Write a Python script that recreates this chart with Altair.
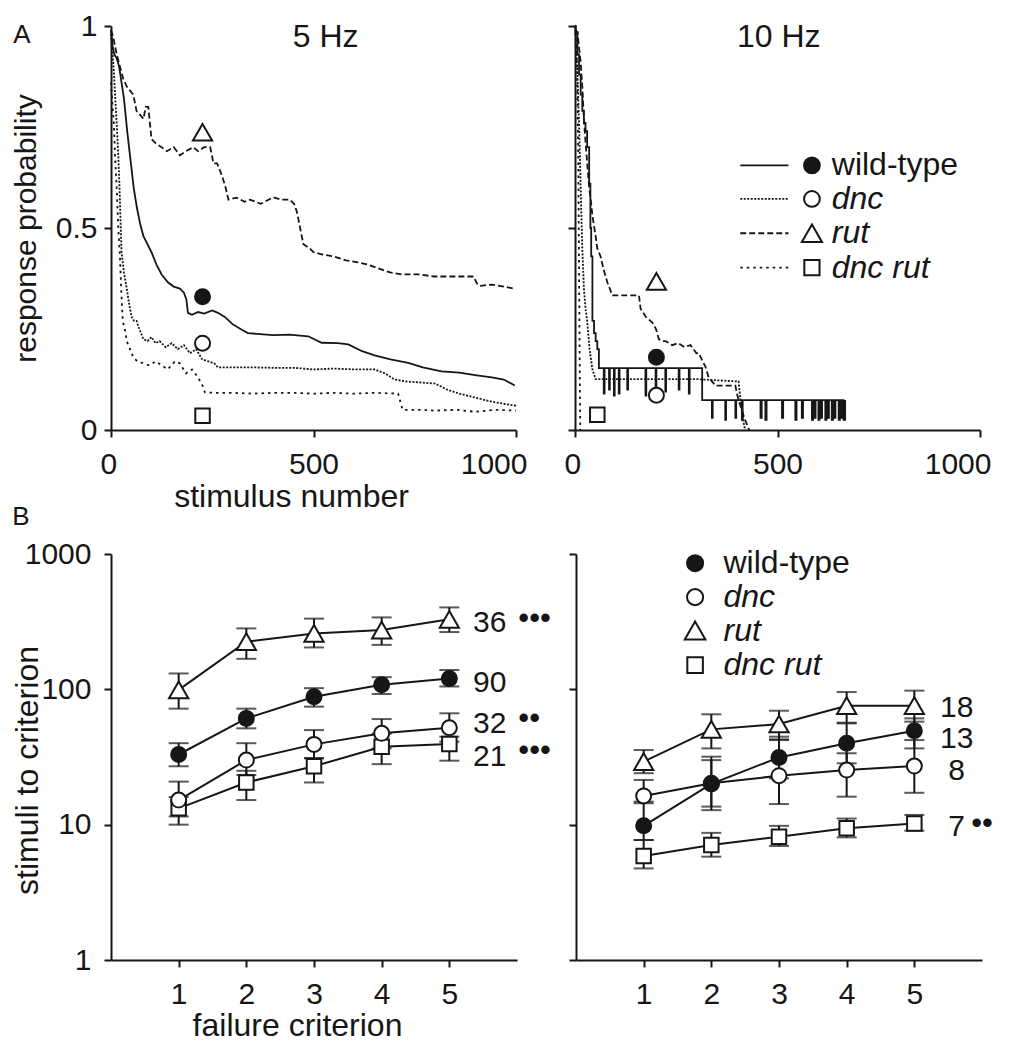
import altair as alt
import pandas as pd

FONT = "Liberation Sans"
INK = "#161616"

# ---------------- Panel A : response probability traces ----------------
# 5 Hz
a5_wt_x = [0, 4, 8, 14, 20, 26, 32, 40, 48, 56, 64, 72, 80, 90, 100, 112, 125, 141, 155, 170, 180, 186,
           190, 200, 215, 230, 250, 264, 281, 300, 320, 338, 360, 400, 440, 487, 520, 560, 586, 620, 651,
           690, 734, 770, 816, 860, 899, 940, 970, 997]
a5_wt_y = [0.99, 0.95, 0.93, 0.92, 0.90, 0.86, 0.82, 0.74, 0.67, 0.60, 0.55, 0.51, 0.48, 0.46, 0.44, 0.41,
           0.385, 0.365, 0.355, 0.35, 0.34, 0.324, 0.29, 0.285, 0.292, 0.288, 0.296, 0.29, 0.28, 0.262, 0.25,
           0.24, 0.238, 0.235, 0.236, 0.232, 0.216, 0.215, 0.212, 0.195, 0.185, 0.175, 0.166, 0.155, 0.145,
           0.142, 0.136, 0.13, 0.125, 0.11]

a5_dnc_x = [0, 4, 7, 10, 14, 18, 21, 26, 32, 39, 45, 51, 57, 63, 70, 80, 90, 100, 110, 120, 135, 150, 165,
            180, 195, 210, 225, 240, 255, 264, 300, 350, 400, 450, 500, 550, 600, 650, 677, 700, 730, 760,
            800, 830, 860, 900, 940, 970, 1000]
a5_dnc_y = [0.98, 0.93, 0.89, 0.83, 0.76, 0.68, 0.60, 0.44, 0.39, 0.35, 0.31, 0.28, 0.27, 0.27, 0.25, 0.225,
            0.22, 0.23, 0.215, 0.22, 0.205, 0.215, 0.20, 0.21, 0.19, 0.20, 0.175, 0.17, 0.165, 0.155, 0.155,
            0.155, 0.154, 0.154, 0.15, 0.152, 0.15, 0.15, 0.14, 0.125, 0.12, 0.118, 0.115, 0.10, 0.09, 0.08,
            0.07, 0.065, 0.06]

a5_rut_x = [0, 6, 14, 22, 30, 39, 47, 55, 63, 72, 80, 86, 92, 100, 110, 125, 138, 155, 170, 185, 203, 215,
            230, 245, 253, 262, 270, 277, 283, 290, 310, 330, 343, 370, 401, 420, 442, 452, 459, 467, 475,
            490, 500, 520, 549, 580, 610, 632, 660, 689, 720, 760, 797, 840, 880, 895, 905, 912, 940, 970, 994]
a5_rut_y = [0.99, 0.97, 0.93, 0.90, 0.87, 0.85, 0.84, 0.83, 0.79, 0.78, 0.77, 0.80, 0.80, 0.72, 0.71, 0.70,
            0.69, 0.70, 0.68, 0.69, 0.70, 0.69, 0.70, 0.70, 0.66, 0.66, 0.64, 0.62, 0.60, 0.57, 0.575, 0.565,
            0.57, 0.56, 0.576, 0.57, 0.57, 0.56, 0.54, 0.50, 0.46, 0.45, 0.44, 0.435, 0.43, 0.42, 0.415, 0.41,
            0.40, 0.39, 0.385, 0.385, 0.38, 0.38, 0.38, 0.38, 0.36, 0.357, 0.36, 0.355, 0.35]

a5_dr_x = [0, 4, 7, 10, 14, 18, 22, 26, 29, 34, 39, 47, 55, 65, 80, 95, 110, 125, 140, 158, 170, 185, 200,
           215, 226, 232, 260, 300, 350, 400, 450, 500, 550, 600, 650, 709, 720, 760, 800, 850, 900, 950, 1000]
a5_dr_y = [0.86, 0.80, 0.76, 0.68, 0.60, 0.50, 0.43, 0.33, 0.27, 0.25, 0.22, 0.20, 0.18, 0.17, 0.165, 0.16,
           0.17, 0.16, 0.15, 0.17, 0.165, 0.14, 0.15, 0.13, 0.11, 0.093, 0.092, 0.092, 0.09, 0.092, 0.092,
           0.09, 0.092, 0.09, 0.092, 0.09, 0.05, 0.05, 0.048, 0.05, 0.045, 0.05, 0.048]

# 10 Hz
a10_wt_x = [0, 2, 6, 10, 14, 18, 22, 26, 30, 35, 38, 40, 43, 47, 51, 55, 59,
            71, 73, 84, 86, 96, 98, 108, 110, 129, 131, 174, 176, 199, 201, 223, 225, 256, 258, 281, 283,
            314, 338, 340, 371, 373, 396, 398, 412, 414, 458, 461, 470, 473, 511, 514, 544, 547, 560, 563,
            585, 588, 592, 594, 601, 604, 608, 610, 618, 621, 625, 627, 634, 637, 641, 643, 651, 654,
            657, 659, 663, 667]
a10_wt_y = [1.0, 0.985, 0.93, 0.88, 0.83, 0.79, 0.76, 0.74, 0.70, 0.61, 0.50, 0.43, 0.27, 0.24, 0.22, 0.20,
            0.153,
            0.09, 0.153, 0.10, 0.153, 0.085, 0.153, 0.09, 0.153, 0.10, 0.153, 0.085, 0.153, 0.09, 0.153,
            0.095, 0.153, 0.10, 0.153, 0.09, 0.153,
            0.074, 0.03, 0.074, 0.025, 0.074, 0.03, 0.074, 0.025, 0.074, 0.03, 0.074, 0.025, 0.074, 0.03,
            0.074, 0.025, 0.074, 0.03, 0.074,
            0.025, 0.074, 0.03, 0.074, 0.025, 0.074, 0.03, 0.074, 0.025, 0.074, 0.03, 0.074, 0.025, 0.074,
            0.03, 0.074, 0.025, 0.074, 0.03, 0.074, 0.025, 0.074]

a10_dnc_x = [0, 2, 6, 10, 14, 18, 22, 26, 30, 36, 43, 51, 100, 200, 300, 404, 408, 412, 416, 420]
a10_dnc_y = [1.0, 0.98, 0.88, 0.76, 0.60, 0.45, 0.35, 0.30, 0.27, 0.20, 0.15, 0.126, 0.126, 0.126, 0.126,
             0.12, 0.08, 0.05, 0.02, 0.0]

a10_rut_x = [0, 6, 14, 18, 22, 27, 35, 40, 43, 51, 55, 63, 70, 80, 86, 92, 158, 162, 175, 191, 200, 207, 215,
             224, 240, 255, 270, 285, 300, 306, 315, 322, 330, 347, 396, 400, 405, 412, 418, 424, 430]
a10_rut_y = [0.99, 0.985, 0.91, 0.85, 0.77, 0.70, 0.60, 0.56, 0.53, 0.48, 0.45, 0.43, 0.40, 0.365, 0.35,
             0.333, 0.333, 0.30, 0.28, 0.266, 0.25, 0.225, 0.22, 0.22, 0.21, 0.215, 0.205, 0.21, 0.19, 0.19,
             0.17, 0.157, 0.13, 0.11, 0.11, 0.09, 0.07, 0.05, 0.03, 0.015, 0.0]

a10_dr_x = [0, 5, 8, 10, 12, 13]
a10_dr_y = [1.0, 0.90, 0.68, 0.40, 0.10, 0.0]

# marker labels on the traces
a5_mark_x = [226, 226, 226, 226]
a5_mark_y = [0.33, 0.215, 0.737, 0.035]      # wild-type, dnc, rut, dnc rut
a10_mark_x = [201, 201, 201, 55]
a10_mark_y = [0.18, 0.086, 0.368, 0.038]

# legend of panel A (drawn inside the 10 Hz plot)
legA_x1, legA_x2, legA_xm, legA_xt = 408, 527, 585, 634
legA_y = [0.655, 0.572, 0.487, 0.402]

freq_labels = ["5 Hz", "10 Hz"]
freq_x = [530, 503]
freq_y = 0.973

# ---------------- Panel B : stimuli to criterion ----------------
crit = [1, 2, 3, 4, 5]
b5_wt = [33, 61, 88, 108, 120]
b5_wt_lo = [27, 51.5, 74.5, 92.4, 105]
b5_wt_hi = [40, 72, 102, 123, 139]
b5_dnc = [15.2, 30, 39.2, 47.3, 52]
b5_dnc_lo = [11.5, 23.3, 31, 36.6, 41]
b5_dnc_hi = [20.8, 40, 50, 60.3, 66.5]
b5_rut = [99, 225, 259, 274, 329]
b5_rut_lo = [72, 168, 204, 213, 265]
b5_rut_hi = [131, 282, 333, 340, 403]
b5_dr = [13.2, 20.5, 27, 37.7, 39.4]
b5_dr_lo = [10, 15.2, 20.5, 28, 29.7]
b5_dr_hi = [16, 25, 31, 47, 44.7]

b10_wt = [9.8, 20, 31.4, 39.9, 49.5]
b10_wt_lo = [7.7, 12.8, 22, 28.4, 36.6]
b10_wt_hi = [14.4, 31.8, 44.7, 56, 61]
b10_dnc = [16.3, 20.2, 23, 25.3, 27.1]
b10_dnc_lo = [14.8, 13.6, 14.2, 16.1, 17.2]
b10_dnc_hi = [21.4, 30, 42.2, 33.7, 42.2]
b10_rut = [29.2, 50.6, 55.4, 75.7, 75.7]
b10_rut_lo = [24, 36.6, 42.7, 56.7, 57.7]
b10_rut_hi = [35.6, 65.4, 69.5, 95.5, 97.8]
b10_dr = [5.87, 7.08, 8.15, 9.4, 10.2]
b10_dr_lo = [4.75, 5.8, 6.96, 8.06, 9.03]
b10_dr_hi = [7.7, 8.7, 9.8, 11.1, 11.8]

# n labels and significance dots
b5_n = ["36", "90", "32", "21"]
b5_n_x = [5.35, 5.35, 5.35, 5.35]
b5_n_y = [307, 111, 55.4, 31.4]
b5_sig = ["•••", "••", "•••"]
b5_sig_x = [6.02, 6.02, 6.02]
b5_sig_y = [329, 60.5, 34.8]
b10_n = ["18", "13", "8", "7"]
b10_n_x = [5.38, 5.38, 5.5, 5.5]
b10_n_y = [72.5, 43, 25.1, 9.6]
b10_sig = ["••"]
b10_sig_x = [5.84]
b10_sig_y = [10.1]

legB_xm, legB_xt = 1.76, 2.18
legB_y = [855, 480, 272, 151]

geno = ["wild-type", "dnc", "rut", "dnc rut"]
dashes = {"wild-type": None, "dnc": [2, 1.5], "rut": [6, 3], "dnc rut": [2.5, 4]}
markers = {  # shape, fill, size
    "wild-type": ("circle", INK, 225),
    "dnc": ("circle", "white", 225),
    "rut": ("triangle-up", "white", 370),
    "dnc rut": ("square", "white", 210),
}

# ---------------- helpers ----------------
def xy(xs, ys):
    return pd.DataFrame({"x": xs, "y": ys})


def line_layer(df, g, X, Y, interp="linear"):
    kw = dict(color=INK, strokeWidth=1.8, interpolate=interp, strokeJoin="miter")
    if dashes[g]:
        kw["strokeDash"] = dashes[g]
    return alt.Chart(df).mark_line(**kw).encode(x=X("x"), y=Y("y"))


def marker_layer(df, g, X, Y, yfield="y", size_scale=1.0):
    shape, fill, size = markers[g]
    return alt.Chart(df).mark_point(shape=shape, filled=True, fill=fill, stroke=INK, strokeWidth=2,
                                    size=size * size_scale, opacity=1).encode(x=X("x"), y=Y(yfield))


def text_layer(df, X, Y, size=32, italic=False, align="left"):
    kw = dict(font=FONT, fontSize=size, align=align, baseline="middle", color=INK)
    if italic:
        kw["fontStyle"] = "italic"
    return alt.Chart(df).mark_text(**kw).encode(x=X("x"), y=Y("y"), text="t:N")


def letter(t, px, py):
    return alt.Chart(pd.DataFrame({"t": [t]})).mark_text(
        font=FONT, fontSize=26, align="center", baseline="middle", color=INK
    ).encode(x=alt.value(px), y=alt.value(py), text="t:N")


# ---------------- Panel A charts ----------------
xA = alt.Scale(domain=[0, 1000], nice=False, zero=False)
yA = alt.Scale(domain=[0, 1], nice=False, zero=False)

axA_x_left = alt.Axis(values=[0, 500, 1000], format="d", labelFlush=True, labelFlushOffset=11,
                      title="stimulus number", titleX=180, titleY=76, titleBaseline="alphabetic",
                      titleAlign="center", titleFontSize=32, labelPadding=12)
axA_x_right = alt.Axis(values=[0, 500, 1000], format="d", labelFlush=True, labelFlushOffset=11,
                       title=None, labelPadding=12)
axA_y_left = alt.Axis(values=[0, 0.5, 1], format="~g", title="response probability", titleX=-85,
                      titleY=202, titleAngle=270, titleBaseline="middle", titleAlign="center",
                      titleFontSize=30, labelPadding=7)
axA_y_right = alt.Axis(values=[0, 0.5, 1], labels=False, title=None)


def XA(ax):
    return lambda f: alt.X(f, type="quantitative", scale=xA, axis=ax)


def YA(ax):
    return lambda f: alt.Y(f, type="quantitative", scale=yA, axis=ax)


def panelA(traces, mark_x, mark_y, ax_x, ax_y, label, label_x, extra):
    X, Y = XA(ax_x), YA(ax_y)
    layers = []
    for g, xs, ys, interp in traces:
        layers.append(line_layer(xy(xs, ys), g, X, Y, interp))
    for i, g in enumerate(geno):
        layers.append(marker_layer(xy([mark_x[i]], [mark_y[i]]), g, X, Y))
    layers.append(text_layer(pd.DataFrame({"x": [label_x], "y": [freq_y], "t": [label]}), X, Y,
                             align="center"))
    layers += extra(X, Y)
    return alt.layer(*layers).properties(width=405, height=404)


def extraA_left(X, Y):
    return [letter("A", -89, 9), letter("B", -90, 491)]


def extraA_right(X, Y):
    out = []
    for i, g in enumerate(geno):
        kw = dict(color=INK, strokeWidth=1.8)
        if dashes[g]:
            kw["strokeDash"] = dashes[g]
        d = pd.DataFrame({"x": [legA_x1], "x2": [legA_x2], "y": [legA_y[i]]})
        out.append(alt.Chart(d).mark_rule(**kw).encode(x=X("x"), x2="x2:Q", y=Y("y")))
        out.append(marker_layer(xy([legA_xm], [legA_y[i]]), g, X, Y, size_scale=1.1))
    out.append(text_layer(pd.DataFrame({"x": [legA_xt], "y": [legA_y[0]], "t": [geno[0]]}), X, Y))
    out.append(text_layer(pd.DataFrame({"x": [legA_xt] * 3, "y": legA_y[1:], "t": geno[1:]}), X, Y,
                          italic=True))
    return out


A1 = panelA(
    [("dnc", a5_dnc_x, a5_dnc_y, "linear"), ("dnc rut", a5_dr_x, a5_dr_y, "linear"),
     ("rut", a5_rut_x, a5_rut_y, "linear"), ("wild-type", a5_wt_x, a5_wt_y, "linear")],
    a5_mark_x, a5_mark_y, axA_x_left, axA_y_left, freq_labels[0], freq_x[0], extraA_left)
A2 = panelA(
    [("dnc", a10_dnc_x, a10_dnc_y, "linear"), ("dnc rut", a10_dr_x, a10_dr_y, "linear"),
     ("rut", a10_rut_x, a10_rut_y, "linear"), ("wild-type", a10_wt_x, a10_wt_y, "step-after")],
    a10_mark_x, a10_mark_y, axA_x_right, axA_y_right, freq_labels[1], freq_x[1], extraA_right)

# ---------------- Panel B charts ----------------
xB = alt.Scale(domain=[0, 6], nice=False, zero=False)
yB = alt.Scale(type="log", domain=[1, 1000], nice=False)

axB_x_left = alt.Axis(values=crit, format="d", labelFlush=False, title="failure criterion", titleX=186,
                      titleY=75, titleBaseline="alphabetic", titleAlign="center", titleFontSize=32,
                      labelPadding=12)
axB_x_right = alt.Axis(values=crit, format="d", labelFlush=False, title=None, labelPadding=12)
axB_y_left = alt.Axis(values=[1, 10, 100, 1000], format="d", title="stimuli to criterion", titleX=-84,
                      titleY=216, titleAngle=270, titleBaseline="middle", titleAlign="center",
                      titleFontSize=32, labelPadding=13)
axB_y_right = alt.Axis(values=[1, 10, 100, 1000], labels=False, title=None)


def panelB(series, ax_x, ax_y, n_lab, n_x, n_y, sig, sig_x, sig_y, legend):
    X = lambda f: alt.X(f, type="quantitative", scale=xB, axis=ax_x)
    Y = lambda f: alt.Y(f, type="quantitative", scale=yB, axis=ax_y)
    lines, marks = [], []
    for g, m, lo, hi in series:
        d = pd.DataFrame({"x": crit, "y": m, "lo": lo, "hi": hi})
        lines.append(alt.Chart(d).mark_line(color=INK, strokeWidth=2).encode(x=X("x"), y=Y("y")))
        lines.append(alt.Chart(d).mark_rule(color=INK, strokeWidth=2).encode(x=X("x"), y=Y("lo"),
                                                                             y2="hi:Q"))
        for f in ("lo", "hi"):
            lines.append(alt.Chart(d).mark_tick(orient="horizontal", color=INK, size=20, thickness=2)
                         .encode(x=X("x"), y=Y(f)))
        marks.append(marker_layer(d, g, X, Y))
    layers = lines + marks
    layers.append(text_layer(pd.DataFrame({"x": n_x, "y": n_y, "t": n_lab}), X, Y, size=30))
    layers.append(text_layer(pd.DataFrame({"x": sig_x, "y": sig_y, "t": sig}), X, Y, size=31))
    if legend:
        for i, g in enumerate(geno):
            layers.append(marker_layer(xy([legB_xm], [legB_y[i]]), g, X, Y, size_scale=1.15))
        layers.append(text_layer(pd.DataFrame({"x": [legB_xt], "y": [legB_y[0]], "t": [geno[0]]}), X, Y))
        layers.append(text_layer(pd.DataFrame({"x": [legB_xt] * 3, "y": legB_y[1:], "t": geno[1:]}),
                                 X, Y, italic=True))
    return alt.layer(*layers).properties(width=406, height=406)


B1 = panelB([("dnc rut", b5_dr, b5_dr_lo, b5_dr_hi), ("dnc", b5_dnc, b5_dnc_lo, b5_dnc_hi),
             ("wild-type", b5_wt, b5_wt_lo, b5_wt_hi), ("rut", b5_rut, b5_rut_lo, b5_rut_hi)],
            axB_x_left, axB_y_left, b5_n, b5_n_x, b5_n_y, b5_sig, b5_sig_x, b5_sig_y, False)
B2 = panelB([("dnc rut", b10_dr, b10_dr_lo, b10_dr_hi), ("dnc", b10_dnc, b10_dnc_lo, b10_dnc_hi),
             ("wild-type", b10_wt, b10_wt_lo, b10_wt_hi), ("rut", b10_rut, b10_rut_lo, b10_rut_hi)],
            axB_x_right, axB_y_right, b10_n, b10_n_x, b10_n_y, b10_sig, b10_sig_x, b10_sig_y, True)

rowA = alt.hconcat(A1, A2, spacing=37)
rowB = alt.hconcat(B1, B2, spacing=17)

chart = alt.vconcat(rowA, rowB, spacing=9).properties(
    padding={"left": 3, "top": 3, "right": 0, "bottom": 2}
).configure_view(stroke=None).configure_axis(
    labelFont=FONT, titleFont=FONT, labelFontSize=30, labelColor=INK, titleColor=INK,
    titleFontWeight="normal", domainColor=INK, domainWidth=2, tickColor=INK, tickWidth=2, tickSize=7,
    grid=False, labelOverlap=False
)

chart.save("out.html", embed_options={"renderer": "svg", "actions": False})
